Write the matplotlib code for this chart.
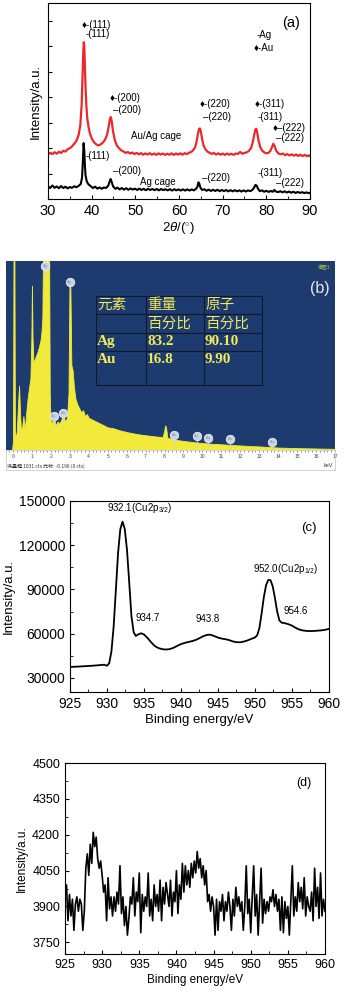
import numpy as np
import matplotlib
matplotlib.use("Agg")
import matplotlib.pyplot as plt
from matplotlib.ticker import MultipleLocator

plt.rcParams['font.family'] = ['Liberation Sans', 'DejaVu Sans']
plt.rcParams['mathtext.fontset'] = 'custom'
plt.rcParams['mathtext.rm'] = 'Liberation Sans'
plt.rcParams['mathtext.it'] = 'Liberation Sans:italic'

# ---------------- (a) XRD ----------------
xrd_red_x = [30.0, 30.5, 31.0, 31.5, 32.0, 32.5, 33.0, 33.5, 34.0, 34.5, 35.0, 35.5, 36.0, 36.5, 37.0,
             37.4, 37.7, 37.9, 38.1, 38.2, 38.3, 38.45, 38.6, 38.8, 39.0, 39.3, 39.6, 40.0, 40.5, 41.0,
             41.5, 42.0, 42.5, 43.0, 43.5, 43.9, 44.2, 44.4, 44.6, 44.9, 45.3, 45.8, 46.3, 46.8, 47.3,
             47.8, 48.3, 48.8, 49.3, 49.8, 50.3, 50.8, 51.3, 51.8, 52.3, 52.8, 53.3, 53.8, 54.3, 54.8,
             55.3, 55.8, 56.3, 56.8, 57.3, 57.8, 58.3, 58.8, 59.3, 59.8, 60.3, 60.8, 61.3, 61.8, 62.3,
             62.8, 63.3, 63.7, 64.0, 64.3, 64.6, 64.8, 65.0, 65.3, 65.6, 66.0, 66.5, 67.0, 67.5, 68.0,
             68.5, 69.0, 69.5, 70.0, 70.5, 71.0, 71.5, 72.0, 72.5, 73.0, 73.5, 74.0, 74.5, 75.0, 75.5,
             76.0, 76.5, 76.9, 77.2, 77.5, 77.7, 77.9, 78.2, 78.6, 79.0, 79.5, 80.0, 80.5, 80.9, 81.3,
             81.6, 81.9, 82.3, 82.8, 83.3, 83.8, 84.3, 84.8, 85.3, 85.8, 86.3, 86.8, 87.3, 87.8, 88.3,
             88.8, 89.3, 89.8, 90.0]
xrd_red_y = [22.6, 23.6, 22.9, 23.9, 23.1, 24.1, 23.5, 24.6, 24.2, 25.4, 25.9, 26.8, 28.2, 29.6, 32.6,
             37.5, 48.0, 62.0, 76.0, 80.0, 78.0, 68.0, 57.0, 47.0, 41.0, 36.5, 33.5, 31.0, 29.0, 28.0,
             27.3, 27.8, 28.6, 30.0, 32.5, 37.0, 41.0, 41.8, 39.5, 34.5, 30.0, 27.2, 25.8, 24.8, 24.2,
             23.5, 24.0, 23.2, 23.7, 22.9, 23.5, 22.8, 23.4, 22.6, 23.3, 22.7, 23.4, 22.6, 23.2, 22.5,
             23.3, 22.7, 23.2, 22.5, 23.1, 22.6, 23.3, 22.5, 23.2, 22.7, 23.3, 22.6, 23.4, 22.9, 23.6,
             24.0, 25.0, 26.5, 29.0, 33.0, 35.8, 36.0, 34.5, 30.5, 27.5, 25.5, 24.2, 23.6, 23.0, 23.5,
             22.7, 23.3, 22.6, 23.2, 22.5, 23.2, 22.6, 23.1, 22.5, 23.2, 23.0, 24.0, 23.1, 23.5, 23.8,
             24.5, 26.0, 29.0, 32.5, 35.5, 35.8, 34.0, 30.0, 26.5, 24.8, 23.8, 23.3, 23.5, 24.5, 26.5,
             28.2, 27.0, 24.5, 23.2, 22.8, 23.2, 22.4, 22.9, 22.2, 22.8, 22.1, 22.7, 22.0, 22.6, 21.9,
             22.5, 21.8, 22.3, 22.0]

xrd_blk_x = [30.0, 30.5, 31.0, 31.5, 32.0, 32.5, 33.0, 33.5, 34.0, 34.5, 35.0, 35.5, 36.0, 36.5, 37.0,
             37.5, 37.8, 38.0, 38.15, 38.3, 38.45, 38.6, 38.9, 39.3, 39.8, 40.3, 40.8, 41.3, 41.8, 42.3,
             42.8, 43.3, 43.8, 44.1, 44.35, 44.6, 44.9, 45.4, 45.9, 46.4, 46.9, 47.4, 47.9, 48.4, 48.9,
             49.4, 49.9, 50.4, 50.9, 51.4, 51.9, 52.4, 52.9, 53.4, 53.9, 54.4, 54.9, 55.4, 55.9, 56.4,
             56.9, 57.4, 57.9, 58.4, 58.9, 59.4, 59.9, 60.4, 60.9, 61.4, 61.9, 62.4, 62.9, 63.4, 63.9,
             64.2, 64.45, 64.65, 64.9, 65.3, 65.8, 66.3, 66.8, 67.3, 67.8, 68.3, 68.8, 69.3, 69.8, 70.3,
             70.8, 71.3, 71.8, 72.3, 72.8, 73.3, 73.8, 74.3, 74.8, 75.3, 75.8, 76.3, 76.8, 77.2, 77.5,
             77.8, 78.1, 78.5, 79.0, 79.5, 80.0, 80.5, 81.0, 81.5, 81.8, 82.2, 82.7, 83.2, 83.7, 84.2,
             84.7, 85.2, 85.7, 86.2, 86.7, 87.2, 87.7, 88.2, 88.7, 89.2, 89.7, 90.0]
xrd_blk_y = [6.6, 5.6, 6.9, 5.7, 6.4, 5.5, 6.6, 5.6, 6.3, 5.4, 6.1, 5.7, 6.5, 6.0, 6.7,
             7.6, 11.0, 20.0, 28.5, 25.0, 17.0, 12.0, 8.8, 7.4, 6.5, 5.6, 6.3, 5.3, 5.9, 5.2,
             5.9, 5.6, 6.8, 8.8, 10.2, 8.6, 6.5, 5.2, 5.8, 4.9, 5.6, 4.8, 5.5, 4.7, 5.4,
             4.8, 5.3, 4.6, 5.3, 4.6, 5.2, 4.5, 5.2, 4.6, 5.1, 4.5, 5.1, 4.4, 5.1, 4.5,
             5.0, 4.4, 5.0, 4.3, 5.0, 4.4, 4.9, 4.3, 4.9, 4.3, 4.9, 4.3, 4.9, 4.4, 5.2,
             6.2, 8.5, 7.8, 5.8, 4.6, 5.0, 4.2, 4.8, 4.1, 4.7, 4.1, 4.7, 4.0, 4.6, 4.0,
             4.6, 3.9, 4.5, 3.9, 4.5, 3.9, 4.4, 3.8, 4.4, 3.8, 4.4, 4.0, 4.6, 5.8, 7.2,
             6.8, 5.2, 4.0, 4.4, 3.7, 4.2, 3.6, 4.1, 3.7, 4.6, 3.8, 3.5, 4.0, 3.4, 3.9,
             3.3, 3.8, 3.2, 3.7, 3.1, 3.6, 3.1, 3.5, 3.0, 3.4, 2.9, 3.2]

xrd_labels = ["\u2666-(111)", "-(111)", "\u2666-(200)", "\u2013(200)", "\u2666-(220)", "\u2013(220)",
              "\u2666-(311)", "-(311)", "\u2666\u2013(222)", "\u2013(222)", "-Ag", "\u2666-Au",
              "-(111)", "\u2013(200)", "\u2013(220)", "-(311)", "\u2013(222)"]
xrd_label_x = [37.8, 38.6, 44.2, 44.9, 64.8, 65.5, 77.4, 78.1, 81.4, 82.3, 77.8, 77.0,
               38.5, 44.9, 65.2, 78.1, 82.2]
xrd_label_y = [88.8, 84.0, 51.7, 45.4, 48.3, 42.0, 48.3, 42.0, 36.4, 31.3, 83.7, 76.9,
               22.1, 14.3, 10.5, 13.1, 8.3]

# ---------------- (b) EDS ----------------
eds_kev = [-0.37, -0.05, 0.0, 0.03, 0.07, 0.1, 0.15, 0.2, 0.27, 0.32, 0.37, 0.42, 0.48, 0.55, 0.6,
           0.65, 0.7, 0.78, 0.85, 0.92, 0.97, 1.0, 1.03, 1.08, 1.15, 1.22, 1.3, 1.38, 1.45, 1.5,
           1.55, 1.6, 1.9, 1.94, 1.98, 2.05, 2.15, 2.25, 2.35, 2.45, 2.55, 2.65, 2.75, 2.85, 2.93,
           2.98, 3.03, 3.08, 3.15, 3.22, 3.3, 3.4, 3.5, 3.6, 3.7, 3.8, 3.9, 4.0, 4.2, 4.4,
           4.6, 4.8, 5.0, 5.3, 5.6, 6.0, 6.5, 7.0, 7.5, 7.9, 7.98, 8.03, 8.08, 8.15, 8.5,
           9.0, 9.5, 10.0, 10.5, 11.0, 11.5, 12.0, 12.5, 13.0, 13.5, 14.0, 15.0, 16.0, 17.0]
eds_cts = [0.0, 0.0, 0.05, 1.2, 1.2, 0.1, 0.06, 0.1, 0.25, 0.34, 0.2, 0.1, 0.12, 0.18, 0.12,
           0.14, 0.2, 0.28, 0.33, 0.38, 0.6, 0.87, 0.6, 0.46, 0.48, 0.5, 0.52, 0.55, 0.58, 0.62,
           0.7, 1.2, 1.2, 0.3, 0.16, 0.14, 0.18, 0.13, 0.15, 0.14, 0.16, 0.19, 0.15, 0.17, 0.3,
           0.87, 0.86, 0.45, 0.42, 0.33, 0.27, 0.24, 0.22, 0.2, 0.21, 0.18, 0.19, 0.17, 0.16, 0.15,
           0.14, 0.13, 0.12, 0.115, 0.105, 0.095, 0.085, 0.078, 0.072, 0.068, 0.1, 0.13, 0.12, 0.065, 0.055,
           0.048, 0.042, 0.037, 0.033, 0.03, 0.027, 0.024, 0.021, 0.019, 0.016, 0.013, 0.01, 0.008, 0.006]
eds_mark_kev = [1.7, 3.0, 2.15, 2.65, 8.5, 9.7, 10.3, 11.45, 13.7]
eds_mark_h = [0.975, 0.89, 0.18, 0.195, 0.08, 0.075, 0.063, 0.058, 0.04]
eds_mark_lbl = ["Ag", "Ag", "Au", "Au", "Au", "Au", "Au", "Au", "Au"]

table_rows = [["元素", "重量", "原子"],
              ["", "百分比", "百分比"],
              ["Ag", "83.2", "90.10"],
              ["Au", "16.8", "9.90"],
              ["", "", ""]]

# ---------------- (c) XPS Cu2p ----------------
xps_c_x = [925, 926, 927, 928, 929, 929.6, 930.0, 930.3, 930.6, 930.9, 931.2, 931.5, 931.8, 932.1,
           932.4, 932.7, 933.0, 933.3, 933.6, 933.9, 934.2, 934.6, 935.0, 935.5, 936.0, 936.5, 937.0,
           937.5, 938.0, 938.5, 939.0, 939.5, 940.0, 940.5, 941.0, 941.5, 942.0, 942.5, 943.0, 943.5,
           943.9, 944.3, 945.0, 945.5, 946.0, 946.5, 947.0, 947.5, 948.0, 948.5, 949.0, 949.5, 950.0,
           950.3, 950.6, 950.9, 951.2, 951.5, 951.8, 952.1, 952.4, 952.7, 953.0, 953.3, 953.6, 954.0,
           954.5, 955.0, 955.5, 956.0, 956.5, 957.0, 957.5, 958.0, 958.5, 959.0, 959.5, 960.0]
xps_c_y = [37500, 37700, 38000, 38300, 38700, 39000, 38300, 40000, 48000, 65000, 90000, 115000, 131000,
           136000, 131000, 117000, 95000, 72000, 61000, 58500, 59500, 60300, 59500, 57000, 54000, 51500,
           50200, 49500, 49300, 49600, 50500, 51800, 53000, 53800, 54400, 55000, 55800, 57000, 58300,
           59200, 59400, 58800, 57400, 56700, 56300, 55700, 54800, 54300, 54200, 54700, 55500, 56500,
           57500, 59000, 64000, 74000, 85000, 93000, 96500, 96300, 92000, 84000, 75000, 69000, 67500,
           67200, 66500, 65500, 64000, 62800, 62200, 61900, 61800, 61900, 62100, 62300, 62700, 63300]

# ---------------- (d) XPS noisy ----------------
xps_d_y = [3960, 3990, 3840, 3950, 3860, 3930, 3800, 3910, 3940, 3880, 3930, 3910, 3800, 3880, 4060,
           4120, 4030, 4160, 4080, 4210, 4150, 4190, 4100, 4060, 4090, 4030, 3960, 3990, 3840, 4020,
           3890, 3940, 3860, 3940, 3880, 3960, 3910, 4070, 3870, 3940, 3820, 3900, 3780, 3850, 3940,
           3910, 4020, 3860, 3960, 3920, 4040, 3790, 3950, 3880, 3940, 3900, 4040, 3860, 3930, 3840,
           3990, 3900, 3950, 3880, 4010, 3840, 3980, 3910, 4000, 3950, 3900, 4010, 3860, 3960, 3920,
           4050, 3870, 3990, 3930, 4080, 3960, 4070, 3990, 4050, 3980, 4080, 4020, 4090, 4040, 4130,
           4060, 4100, 4020, 4070, 3990, 4050, 3920, 3950, 3880, 3940, 3900, 3780, 3930, 3800, 3920,
           3880, 3950, 3840, 3920, 3880, 3960, 3900, 3800, 3930, 3860, 3980, 3900, 3940, 3880, 3920,
           3800, 3900, 4070, 3870, 3930, 3790, 3940, 4070, 3860, 3950, 3780, 3920, 4060, 3830, 3930,
           3870, 3920, 3880, 3940, 3920, 3970, 3900, 3950, 3880, 3930, 3800, 3940, 3790, 3920, 3850,
           3900, 3780, 3930, 4070, 3860, 3940, 3880, 4000, 3920, 3980, 3890, 4020, 3860, 3940, 3900,
           3880, 3960, 3840, 4060, 3900, 3980, 3850, 4040, 3860, 3930, 3880]
xps_d_x = np.linspace(925, 960, len(xps_d_y))

W, H = 347, 993


def box(l, t, r, b):
    return [l / W, 1 - b / H, (r - l) / W, (b - t) / H]


fig = plt.figure(figsize=(W / 100, H / 100), dpi=100)

# ---- panel a
ax = fig.add_axes(box(48, 3, 310, 199))
ax.plot(xrd_red_x, xrd_red_y, color='#e8282c', lw=1.6)
ax.plot(xrd_blk_x, xrd_blk_y, color='black', lw=1.5)
ax.set_xlim(30, 90)
ax.set_ylim(0, 100)
ax.xaxis.set_major_locator(MultipleLocator(10))
ax.xaxis.set_minor_locator(MultipleLocator(5))
ax.yaxis.set_major_locator(MultipleLocator(13))
ax.set_yticklabels([])
ax.tick_params(direction='in', labelsize=10.5, length=3)
ax.tick_params(which='minor', direction='in', length=2)
ax.set_xlabel("2$\\it{\\theta}$/($^{\\circ}$)", fontsize=9.5, labelpad=2)
ax.set_ylabel("Intensity/a.u.", fontsize=9.5, labelpad=1)
for t, xx, yy in zip(xrd_labels, xrd_label_x, xrd_label_y):
    ax.text(xx, yy, t, fontsize=7, ha='left', va='center')
ax.text(49.0, 32.1, "Au/Ag cage", fontsize=7, va='center')
ax.text(51.1, 8.6, "Ag cage", fontsize=7, va='center')
ax.text(83.7, 89.6, "(a)", fontsize=10.5, va='center')

# ---- panel b
axb = fig.add_axes(box(6, 261, 335, 450))
axb.set_facecolor('#1d3b6e')
axb.fill_between(eds_kev, eds_cts, color='#f2ea3a', lw=0.6, edgecolor='#f2ea3a')
axb.set_xlim(-0.37, 17.0)
axb.set_ylim(0, 1)
axb.set_xticks([])
axb.set_yticks([])
for s in axb.spines.values():
    s.set_visible(False)
axb.vlines(eds_mark_kev, [h - 0.06 for h in eds_mark_h], eds_mark_h, color='#c9d3e3', lw=0.6, zorder=4)
axb.scatter(eds_mark_kev, eds_mark_h, s=38, color='#c9d3e3', edgecolors='#eef2f8', linewidths=0.5, zorder=5)
for xx, yy, t in zip(eds_mark_kev, eds_mark_h, eds_mark_lbl):
    axb.text(xx, yy, t, fontsize=2.8, color='#7f8fa8', ha='center', va='center', zorder=6)
axb.text(0.985, 0.965, "谱图1", transform=axb.transAxes, fontsize=3.5, color='#b8c43a',
         ha='right', va='center', family=['Noto Sans CJK SC', 'DejaVu Sans'])
axb.text(0.955, 0.855, "(b)", transform=axb.transAxes, fontsize=11.5, color='#e6e9f0',
         ha='center', va='center')

tbl = axb.table(cellText=table_rows, cellLoc='left', colWidths=[0.30, 0.35, 0.35],
                bbox=[0.274, 0.344, 0.504, 0.471])
tbl.auto_set_font_size(False)
row_h = [18, 19, 18, 17, 17]
for (r, c), cell in tbl.get_celld().items():
    cell.set_facecolor('#1d3b6e')
    cell.set_edgecolor('#101a2c')
    cell.set_linewidth(0.8)
    cell.set_height(row_h[r])
    cell.PAD = 0.02
    txt = cell.get_text()
    txt.set_color('#f0e95a')
    if r < 2:
        txt.set_fontfamily(['Noto Sans CJK SC'])
        txt.set_fontsize(10.5)
    else:
        txt.set_fontfamily(['Liberation Serif'])
        txt.set_fontweight('bold')
        txt.set_fontsize(11)
    if r == 3:
        cell.visible_edges = 'LTR'
    if r == 4:
        cell.visible_edges = 'LBR'

axs = fig.add_axes(box(6, 450, 335, 470))
axs.set_xlim(-0.37, 17.0)
axs.set_ylim(0, 1)
axs.set_yticks([])
axs.xaxis.set_major_locator(MultipleLocator(1))
axs.xaxis.set_minor_locator(MultipleLocator(0.2))
axs.tick_params(axis='x', which='both', top=True, bottom=False, labeltop=True, labelbottom=False,
                direction='in', length=1.5, width=0.5, color='#666666', labelsize=3.6,
                labelcolor='#444444', pad=-6.5)
for s in axs.spines.values():
    s.set_color('#c8ccd4')
    s.set_linewidth(0.6)
axs.text(0.003, 0.2, "满量程 1031 cts 光标: -0.196 (0 cts)", transform=axs.transAxes, fontsize=3.6,
         color='#333333', va='center', family=['Noto Sans CJK SC', 'DejaVu Sans'])
axs.text(0.995, 0.22, "keV", transform=axs.transAxes, fontsize=4, color='#333333',
         ha='right', va='center')

# ---- panel c
axc = fig.add_axes(box(70, 501, 329, 692))
axc.plot(xps_c_x, xps_c_y, color='black', lw=1.3)
axc.set_xlim(925, 960)
axc.set_ylim(20500, 150000)
axc.xaxis.set_major_locator(MultipleLocator(5))
axc.xaxis.set_minor_locator(MultipleLocator(2.5))
axc.yaxis.set_major_locator(MultipleLocator(30000))
axc.yaxis.set_minor_locator(MultipleLocator(15000))
axc.tick_params(direction='in', labelsize=10, length=3)
axc.tick_params(which='minor', direction='in', length=2)
axc.set_xlabel("Binding energy/eV", fontsize=9.5, labelpad=2)
axc.set_ylabel("Intensity/a.u.", fontsize=9.5, labelpad=3)
axc.text(930.0, 145000, "932.1(Cu2p$_{3/2}$)", fontsize=7, va='center')
axc.text(933.8, 70500, "934.7", fontsize=7, va='center')
axc.text(941.9, 70300, "943.8", fontsize=7, va='center')
axc.text(949.7, 104200, "952.0(Cu2p$_{1/2}$)", fontsize=7, va='center')
axc.text(953.8, 75300, "954.6", fontsize=7, va='center')
axc.text(956.3, 132000, "(c)", fontsize=9.5, va='center')

# ---- panel d
axd = fig.add_axes(box(65, 763, 325, 954))
axd.plot(xps_d_x, xps_d_y, color='black', lw=1.2)
axd.set_xlim(925, 960)
axd.set_ylim(3701, 4500)
axd.xaxis.set_major_locator(MultipleLocator(5))
axd.xaxis.set_minor_locator(MultipleLocator(2.5))
axd.yaxis.set_major_locator(MultipleLocator(150))
axd.yaxis.set_minor_locator(MultipleLocator(75))
axd.tick_params(direction='in', labelsize=9, length=3)
axd.tick_params(which='minor', direction='in', length=2)
axd.set_xlabel("Binding energy/eV", fontsize=8.5, labelpad=2)
axd.set_ylabel("Intensity/a.u.", fontsize=8.5, labelpad=3)
axd.text(956.1, 4416, "(d)", fontsize=9, va='center')

fig.savefig("out.png", dpi=100)
